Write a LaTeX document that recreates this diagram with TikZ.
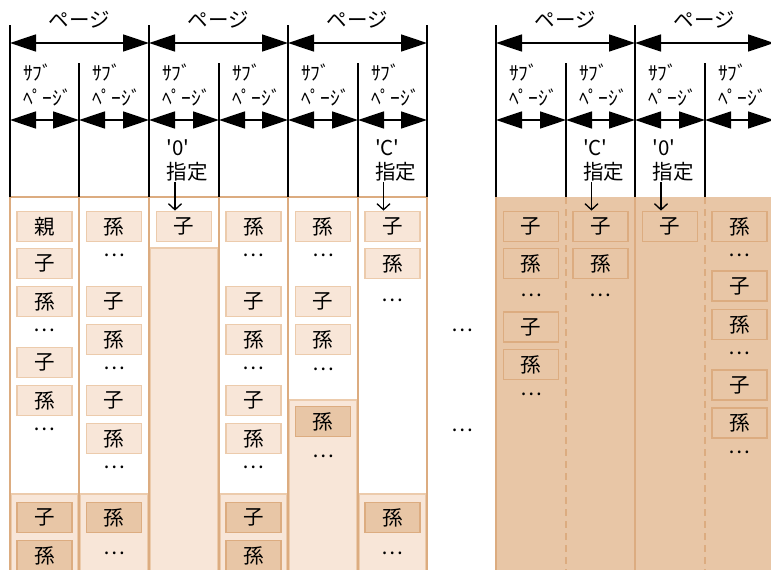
\documentclass[tikz,border=0pt]{standalone}
\usepackage{fontspec}
\newfontfamily\jp{Noto Sans CJK JP}
\usetikzlibrary{arrows.meta}
\definecolor{peachlt}{RGB}{248,230,216}
\definecolor{peachdk}{RGB}{232,198,166}
\definecolor{rimlt}{RGB}{236,203,172}
\definecolor{rimdk}{RGB}{220,172,128}
\tikzset{
  cell/.style={draw=rimlt,fill=peachlt,line width=1.8pt,minimum width=55pt,minimum height=30pt,inner sep=0pt},
  celldk/.style={cell,draw=rimdk,fill=peachdk},
  cellrt/.style={cell,draw=rimdk,fill=peachdk},
  dots/.style={inner sep=0pt},
  span/.style={{Triangle[length=26pt,width=17pt]}-{Triangle[length=26pt,width=17pt]},line width=1.5pt},
  pointer/.style={-{Straight Barb[length=6pt,width=13pt]},line width=1.3pt},
  rule/.style={line width=1.7pt},
  colrim/.style={draw=rimdk,line width=1.5pt},
}
% one column of cells: name prefix, x of centre, list of style/text/y
\newcommand{\colstack}[3]{%
  \foreach \k/\t/\y [count=\i] in {#3} \node[\k] (#1-\i) at (#2,\y) {\t};}

\begin{document}
\begin{tikzpicture}[x=1pt,y=-1pt,every node/.style={font=\jp\fontsize{20.5}{24}\selectfont}]
  \useasboundingbox (0,0) rectangle (771,570);
  \clip (0,0) rectangle (771,570);

  % right block (already written pages)
  \fill[peachdk] (496,197) rectangle (780,580);
  \draw[colrim] (496,197) -- (496,580);
  \draw[colrim] (635,197) -- (635,580);
  \draw[colrim,dash pattern=on 7pt off 5pt] (566,197) -- (566,580);
  \draw[colrim,dash pattern=on 7pt off 5pt] (705,197) -- (705,580);

  % left block columns and their filled lower parts
  \foreach \xl/\xr/\yf in {10/79/494,79/149/494,149/219/248,219/288/494,288/358/400,358/427/494} {
    \filldraw[fill=peachlt,draw=rimlt,line width=1.2pt] (\xl+1.5,\yf) rectangle (\xr-1.5,585);
    \draw[colrim] (\xl,197) rectangle (\xr,590);
  }

  % page / subpage rules
  \foreach \x in {10,149,288,427,496,635} \draw[rule] (\x,25) -- (\x,197);
  \foreach \x in {79,219,358,566,705} \draw[rule] (\x,63) -- (\x,197);
  \foreach \x/\n in {10/a,149/b,288/c,427/d,496/e,635/f,774/g} \coordinate (pg\n) at (\x,43);
  \foreach \p/\q in {a/b,b/c,c/d,e/f,f/g} \draw[span] (pg\p) -- (pg\q);
  \foreach \x [count=\i] in {10,79,149,219,288,358,427,496,566,635,705,774} \coordinate (sp\i) at (\x,120);
  \foreach \i [evaluate=\i as \j using int(\i+1)] in {1,...,6,8,9,10,11} \draw[span] (sp\i) -- (sp\j);

  \foreach \x [count=\i] in {79.5,218.5,357.5,565.5,704.5} \node (pglab\i) at (\x,20) {ページ};
  \foreach \x [count=\i] in {10,79,149,219,288,358,496,566,635,705}
    \node[anchor=west,align=left,inner sep=0pt,font=\jp\fontsize{19.5}{25}\selectfont] (splab\i) at (\x+13,85) {ｻﾌﾞ\\ﾍﾟｰｼﾞ};

  % cells
  \colstack{a}{44.5}{cell/親/226.5, cell/子/263.5, cell/孫/301.5, dots/…/330, cell/子/362.5, cell/孫/400.5, dots/…/429, celldk/子/517.5, celldk/孫/555.5}
  \colstack{b}{114}{cell/孫/226.5, dots/…/255, cell/子/301.5, cell/孫/339.5, dots/…/368, cell/子/400.5, cell/孫/438.5, dots/…/467, celldk/孫/517.5, dots/…/553}
  \colstack{c}{184}{cell/子/226.5}
  \colstack{d}{253.5}{cell/孫/226.5, dots/…/255, cell/子/301.5, cell/孫/339.5, dots/…/368, cell/子/400.5, cell/孫/438.5, dots/…/467, celldk/子/517.5, celldk/孫/555.5}
  \colstack{e}{323}{cell/孫/226.5, dots/…/255, cell/子/301.5, cell/孫/339.5, dots/…/369, celldk/孫/421.5, dots/…/456}
  \colstack{f}{392.5}{cell/子/226.5, cell/孫/263.5, dots/…/300, celldk/孫/517.5, dots/…/553}
  \colstack{g}{531}{cellrt/子/226.5, cellrt/孫/263.5, dots/…/295, cellrt/子/327, cellrt/孫/364.5, dots/…/394}
  \colstack{h}{600.5}{cellrt/子/226.5, cellrt/孫/263.5, dots/…/295}
  \colstack{i}{670}{cellrt/子/226.5}
  \colstack{j}{739.5}{cellrt/孫/226.5, dots/…/255, cellrt/子/286, cellrt/孫/324.5, dots/…/353, cellrt/子/385, cellrt/孫/423, dots/…/452}

  \node[dots] (gap1) at (462,330) {…};
  \node[dots] (gap2) at (462,430) {…};

  % '0' / 'C' marks pointing at the first child
  \foreach \cx/\m/\c in {184/0/c,392.5/C/f,600.5/C/h,670/0/i} {
    \node[align=left,inner sep=1pt] (mk\c) at (\cx+3,160) {'\m'\\指定};
    \draw[pointer] ([xshift=-12pt]mk\c.south) -- ([xshift=-9pt]\c-1.north);
  }
\end{tikzpicture}
\end{document}
